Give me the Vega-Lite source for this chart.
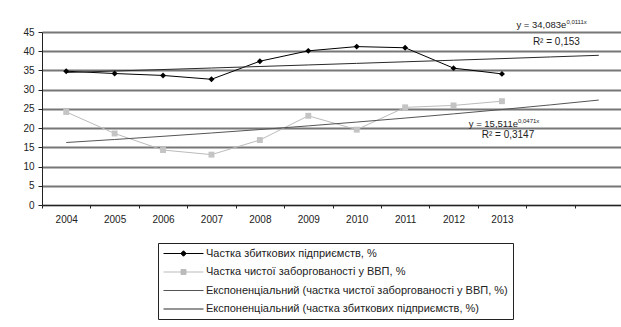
{
  "$schema": "https://vega.github.io/schema/vega-lite/v6.json",
  "width": 581,
  "height": 173,
  "autosize": {"type": "none"},
  "padding": {"left": 42, "top": 32, "right": 0, "bottom": 122},
  "background": "white",
  "config": {"font": "Liberation Sans", "view": {"stroke": null}, "text": {"font": "Liberation Sans"}},
  "datasets": {
    "series": [
      {"year": "2004", "s": "1", "v": 34.8}, {"year": "2005", "s": "1", "v": 34.2}, {"year": "2006", "s": "1", "v": 33.7}, {"year": "2007", "s": "1", "v": 32.7}, {"year": "2008", "s": "1", "v": 37.4}, {"year": "2009", "s": "1", "v": 40.1}, {"year": "2010", "s": "1", "v": 41.2}, {"year": "2011", "s": "1", "v": 40.9}, {"year": "2012", "s": "1", "v": 35.6}, {"year": "2013", "s": "1", "v": 34.1},
      {"year": "2004", "s": "2", "v": 24.2}, {"year": "2005", "s": "2", "v": 18.6}, {"year": "2006", "s": "2", "v": 14.3}, {"year": "2007", "s": "2", "v": 13.1}, {"year": "2008", "s": "2", "v": 16.9}, {"year": "2009", "s": "2", "v": 23.2}, {"year": "2010", "s": "2", "v": 19.6}, {"year": "2011", "s": "2", "v": 25.4}, {"year": "2012", "s": "2", "v": 25.9}, {"year": "2013", "s": "2", "v": 27.0},
      {"year": "2004", "s": "3", "v": 16.26}, {"year": "2005", "s": "3", "v": 17.04}, {"year": "2006", "s": "3", "v": 17.87}, {"year": "2007", "s": "3", "v": 18.73}, {"year": "2008", "s": "3", "v": 19.63}, {"year": "2009", "s": "3", "v": 20.58}, {"year": "2010", "s": "3", "v": 21.57}, {"year": "2011", "s": "3", "v": 22.61}, {"year": "2012", "s": "3", "v": 23.70}, {"year": "2013", "s": "3", "v": 24.84}, {"year": "2014", "s": "3", "v": 26.04}, {"year": "2015", "s": "3", "v": 27.30},
      {"year": "2004", "s": "4", "v": 34.46}, {"year": "2005", "s": "4", "v": 34.85}, {"year": "2006", "s": "4", "v": 35.24}, {"year": "2007", "s": "4", "v": 35.63}, {"year": "2008", "s": "4", "v": 36.03}, {"year": "2009", "s": "4", "v": 36.43}, {"year": "2010", "s": "4", "v": 36.84}, {"year": "2011", "s": "4", "v": 37.25}, {"year": "2012", "s": "4", "v": 37.66}, {"year": "2013", "s": "4", "v": 38.08}, {"year": "2014", "s": "4", "v": 38.51}, {"year": "2015", "s": "4", "v": 38.94}
    ],
    "eq": [
      {"year": "2014", "v": 46.8, "t": "y = 34,083e"},
      {"year": "2013", "v": 21.07, "t": "y = 15,511e"}
    ],
    "sup": [
      {"year": "2014", "v": 47.5, "t": "0,0111x"},
      {"year": "2013", "v": 21.9, "t": "0,0471x"}
    ],
    "r2": [
      {"year": "2014", "v": 42.5, "t": "R² = 0,153"},
      {"year": "2013", "v": 18.2, "t": "R² = 0,3147"}
    ]
  },
  "encoding": {
    "x": {
      "field": "year", "type": "ordinal",
      "scale": {"type": "band", "domain": ["2004", "2005", "2006", "2007", "2008", "2009", "2010", "2011", "2012", "2013", "2014", "2015"], "paddingInner": 0, "paddingOuter": 0},
      "axis": {"title": null, "tickBand": "extent", "labelExpr": "datum.value > '2013' ? '' : datum.label", "labelAngle": 0, "labelFontSize": 10, "labelColor": "#222", "labelPadding": 6, "domainColor": "#222", "tickColor": "#222", "tickSize": 3, "grid": false}
    },
    "y": {
      "field": "v", "type": "quantitative",
      "scale": {"domain": [0, 45], "nice": false},
      "axis": {"title": null, "values": [0, 5, 10, 15, 20, 25, 30, 35, 40, 45], "labelFontSize": 10, "labelColor": "#222", "labelPadding": 4, "domainColor": "#222", "tickColor": "#222", "tickSize": 4, "grid": true, "gridColor": "#777", "gridWidth": 2}
    }
  },
  "layer": [
    {
      "data": {"name": "series"},
      "mark": {"type": "line", "clip": false},
      "encoding": {
        "color": {
          "field": "s", "type": "nominal",
          "scale": {"domain": ["1", "2", "3", "4"], "range": ["#000000", "#bbbbbb", "#555555", "#2a2a2a"]},
          "legend": {
            "orient": "none", "legendX": 116, "legendY": 211, "direction": "vertical", "title": null,
            "strokeColor": "#222", "fillColor": "white", "padding": 5,
            "symbolSize": 100, "symbolType": "stroke", "symbolStrokeWidth": 1,
            "labelFontSize": 11, "labelColor": "#222", "rowPadding": 6.5, "labelOffset": 32, "labelLimit": 400,
            "labelExpr": "datum.value == '1' ? 'Частка збиткових підприємств, %' : datum.value == '2' ? 'Частка чистої заборгованості у ВВП, %' : datum.value == '3' ? 'Експоненціальний (частка чистої заборгованості у ВВП, %)' : 'Експоненціальний (частка збиткових підприємств, %)'",
            "encode": {
              "symbols": {
                "update": {
                  "shape": {"signal": "datum.value == '1' ? 'M-1,0H7M3,-0.55L3.55,0L3,0.55L2.45,0Z' : datum.value == '2' ? 'M-1,0H7M2.5,-0.5H3.5V0.5H2.5Z' : 'M-1,0H7'"},
                  "fill": {"signal": "datum.value == '1' ? '#000' : datum.value == '2' ? '#bbb' : 'transparent'"}
                }
              }
            }
          }
        },
        "strokeWidth": {
          "field": "s", "type": "nominal",
          "scale": {"domain": ["1", "2", "3", "4"], "range": [1, 1, 1.5, 2]},
          "legend": null
        }
      }
    },
    {
      "data": {"name": "series"},
      "transform": [{"filter": "datum.s == '1' || datum.s == '2'"}],
      "mark": {"type": "point", "filled": true, "opacity": 1},
      "encoding": {
        "shape": {"field": "s", "type": "nominal", "scale": {"domain": ["1", "2"], "range": ["diamond", "square"]}, "legend": null},
        "fill": {"field": "s", "type": "nominal", "scale": {"domain": ["1", "2"], "range": ["#000000", "#c4c4c4"]}, "legend": null},
        "size": {"value": 35}
      }
    },
    {
      "data": {"name": "eq"},
      "mark": {"type": "text", "align": "right", "baseline": "middle", "dx": 16, "fontSize": 9.5, "color": "#222", "clip": false},
      "encoding": {"text": {"field": "t"}}
    },
    {
      "data": {"name": "sup"},
      "mark": {"type": "text", "align": "left", "baseline": "middle", "dx": 16, "fontSize": 6, "color": "#222", "clip": false},
      "encoding": {"text": {"field": "t"}}
    },
    {
      "data": {"name": "r2"},
      "mark": {"type": "text", "align": "center", "baseline": "middle", "dx": 6, "fontSize": 10, "color": "#222", "clip": false},
      "encoding": {"text": {"field": "t"}}
    }
  ]
}
